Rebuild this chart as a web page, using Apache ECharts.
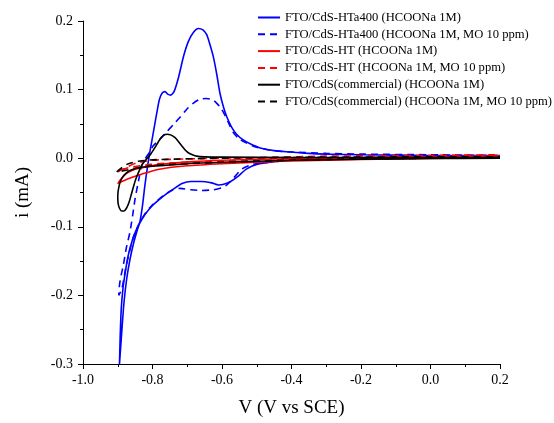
<!DOCTYPE html>
<html>
<head>
<meta charset="utf-8">
<script src="https://cdn.jsdelivr.net/npm/echarts@6/dist/echarts.min.js"></script>
<style>html,body{margin:0;padding:0;background:#fff}#c{width:554px;height:423px}</style>
</head>
<body>
<div id="c"></div>
<script>
const seriesNames = [
  'FTO/CdS-HTa400 (HCOONa 1M)',
  'FTO/CdS-HTa400 (HCOONa 1M, MO 10 ppm)',
  'FTO/CdS-HT (HCOONa 1M)',
  'FTO/CdS-HT (HCOONa 1M, MO 10 ppm)',
  'FTO/CdS(commercial) (HCOONa 1M)',
  'FTO/CdS(commercial) (HCOONa 1M, MO 10 ppm)'
];
const xTicks = [-1.0, 0.2, 0.2];   // min, max, interval
const yTicks = [-0.3, 0.2, 0.1];

// FTO/CdS-HTa400 (HCOONa 1M)
const hta_V = [0.2,0.1,0.0,-0.1,-0.2,-0.3,-0.4,-0.45,-0.5,-0.53,-0.555,-0.575,-0.595,-0.61,-0.63,-0.66,-0.69,-0.715,-0.74,-0.76,-0.78,-0.80,-0.82,-0.835,-0.848,-0.86,-0.87,-0.878,-0.885,-0.89,-0.893,-0.895,
  -0.893,-0.888,-0.882,-0.874,-0.865,-0.855,-0.845,-0.836,-0.829,-0.822,-0.816,-0.809,-0.803,-0.795,-0.788,-0.78,-0.772,-0.764,-0.755,-0.748,-0.738,-0.725,-0.711,-0.697,-0.683,-0.668,-0.655,-0.644,-0.635,-0.625,-0.615,-0.606,-0.596,-0.586,-0.572,-0.558,-0.54,-0.519,-0.49,-0.45,-0.4,-0.35,-0.3,-0.2,-0.1,0.0,0.1,0.2];
const hta_I = [0.002,0.0015,0.001,0.0,-0.001,-0.002,-0.003,-0.005,-0.009,-0.016,-0.027,-0.034,-0.038,-0.039,-0.036,-0.034,-0.034,-0.037,-0.045,-0.052,-0.060,-0.069,-0.081,-0.093,-0.106,-0.123,-0.142,-0.165,-0.19,-0.22,-0.26,-0.30,
  -0.30,-0.25,-0.21,-0.175,-0.148,-0.125,-0.107,-0.092,-0.070,-0.040,-0.018,0.005,0.022,0.045,0.065,0.086,0.095,0.097,0.093,0.092,0.097,0.118,0.148,0.170,0.183,0.189,0.187,0.180,0.166,0.148,0.122,0.095,0.075,0.060,0.045,0.035,0.027,0.021,0.015,0.011,0.009,0.007,0.006,0.005,0.0045,0.004,0.004,0.004];

// FTO/CdS-HTa400 (HCOONa 1M, MO 10 ppm)
const htaMO_V = [0.2,0.0,-0.2,-0.3,-0.4,-0.45,-0.51,-0.543,-0.565,-0.586,-0.6,-0.625,-0.66,-0.69,-0.72,-0.745,-0.77,-0.80,-0.82,-0.84,-0.855,-0.868,-0.878,-0.888,-0.897,
  -0.895,-0.89,-0.884,-0.875,-0.865,-0.857,-0.85,-0.841,-0.831,-0.82,-0.808,-0.798,-0.778,-0.76,-0.74,-0.72,-0.702,-0.683,-0.663,-0.645,-0.627,-0.615,-0.603,-0.591,-0.578,-0.567,-0.55,-0.529,-0.5,-0.45,-0.4,-0.3,-0.2,0.0,0.2];
const htaMO_I = [0.003,0.002,0.0,-0.001,-0.003,-0.005,-0.009,-0.016,-0.028,-0.039,-0.043,-0.046,-0.047,-0.046,-0.044,-0.047,-0.055,-0.068,-0.080,-0.097,-0.115,-0.14,-0.163,-0.19,-0.20,
  -0.185,-0.17,-0.156,-0.13,-0.108,-0.083,-0.059,-0.035,-0.011,0.0,0.009,0.018,0.028,0.038,0.049,0.060,0.071,0.080,0.086,0.087,0.085,0.080,0.073,0.062,0.048,0.037,0.028,0.022,0.016,0.011,0.009,0.007,0.006,0.005,0.004];

// FTO/CdS-HT (HCOONa 1M)
const ht_V = [0.2,0.0,-0.2,-0.4,-0.5,-0.6,-0.7,-0.78,-0.83,-0.87,-0.9,
  -0.89,-0.875,-0.85,-0.826,-0.78,-0.683,-0.6,-0.49,-0.3,-0.1,0.2];
const ht_I = [0.001,-0.0005,-0.002,-0.004,-0.006,-0.008,-0.011,-0.016,-0.023,-0.030,-0.037,
  -0.030,-0.022,-0.016,-0.0135,-0.009,-0.005,-0.003,-0.0015,0.0,0.002,0.003];

// FTO/CdS-HT (HCOONa 1M, MO 10 ppm)
const htMO_V = [0.2,0.0,-0.2,-0.4,-0.6,-0.75,-0.82,-0.87,-0.9,
  -0.87,-0.846,-0.8,-0.7,-0.5,-0.3,0.0,0.2];
const htMO_I = [0.003,0.0015,0.0,-0.002,-0.004,-0.007,-0.010,-0.014,-0.020,
  -0.012,-0.007,-0.003,-0.001,0.001,0.003,0.004,0.005];

// FTO/CdS(commercial) (HCOONa 1M)
const com_V = [0.2,0.0,-0.2,-0.4,-0.6,-0.7,-0.78,-0.836,-0.86,-0.874,-0.888,-0.896,-0.9,-0.899,-0.895,-0.889,-0.882,-0.875,-0.868,-0.861,-0.855,-0.847,-0.838,-0.828,-0.817,-0.805,-0.793,-0.783,-0.775,-0.766,-0.758,-0.748,-0.735,-0.725,-0.716,-0.706,-0.697,-0.685,-0.673,-0.65,-0.6,-0.4,-0.2,0.0,0.2];
const com_I = [0.0,-0.0005,-0.0015,-0.003,-0.006,-0.008,-0.011,-0.0135,-0.017,-0.021,-0.029,-0.040,-0.055,-0.066,-0.073,-0.077,-0.077,-0.073,-0.065,-0.053,-0.042,-0.029,-0.018,-0.008,-0.001,0.006,0.0155,0.024,0.030,0.034,0.035,0.034,0.030,0.024,0.018,0.012,0.008,0.005,0.003,0.002,0.0015,0.001,0.001,0.001,0.001];

// FTO/CdS(commercial) (HCOONa 1M, MO 10 ppm)
const comMO_V = [0.2,0.0,-0.2,-0.4,-0.6,-0.7,-0.8,-0.855,-0.88,-0.903,
  -0.874,-0.836,-0.78,-0.6,-0.4,0.0,0.2];
const comMO_I = [0.001,0.0,-0.001,-0.003,-0.006,-0.008,-0.011,-0.015,-0.018,-0.020,
  -0.009,-0.004,-0.002,0.0,0.001,0.002,0.002];

const allV = [hta_V, htaMO_V, ht_V, htMO_V, com_V, comMO_V];
const allI = [hta_I, htaMO_I, ht_I, htMO_I, com_I, comMO_I];
const colors = ['#0000ff','#0000ff','#ff0000','#ff0000','#000000','#000000'];
const dashed = [false,true,false,true,false,true];

const FONT = 'Liberation Serif';
const fmt = v => (Math.abs(v) < 1e-9 ? 0 : v).toFixed(1);

const chart = echarts.init(document.getElementById('c'));
chart.setOption({
  animation: false,
  backgroundColor: '#fff',
  grid: {left: 83, right: 54, top: 21, bottom: 57, containLabel: false},
  legend: {
    orient: 'vertical', left: 252, top: 6, padding: 5,
    itemWidth: 22, itemHeight: 14, itemGap: 3.8,
    itemStyle: {opacity: 0, borderWidth: 0},
    textStyle: {fontFamily: FONT, fontSize: 12.6, color: '#000'},
    data: seriesNames
  },
  xAxis: {
    type: 'value', min: xTicks[0], max: xTicks[1], interval: xTicks[2],
    name: 'V (V vs SCE)', nameLocation: 'middle', nameGap: 35,
    nameTextStyle: {fontFamily: FONT, fontSize: 19, color: '#000'},
    axisLine: {onZero: false, lineStyle: {color: '#000', width: 1}},
    axisTick: {length: 5, lineStyle: {color: '#000'}},
    minorTick: {show: true, splitNumber: 2, length: 3, lineStyle: {color: '#000'}},
    splitLine: {show: false},
    axisLabel: {fontFamily: FONT, fontSize: 14, color: '#000', margin: 9, formatter: fmt}
  },
  yAxis: {
    type: 'value', min: yTicks[0], max: yTicks[1], interval: yTicks[2],
    name: 'i (mA)', nameLocation: 'middle', nameGap: 50,
    nameTextStyle: {fontFamily: FONT, fontSize: 19, color: '#000'},
    axisLine: {show: true, onZero: false, lineStyle: {color: '#000', width: 1}},
    axisTick: {show: true, length: 5, lineStyle: {color: '#000'}},
    minorTick: {show: true, splitNumber: 2, length: 3, lineStyle: {color: '#000'}},
    splitLine: {show: false},
    axisLabel: {fontFamily: FONT, fontSize: 14, color: '#000', margin: 10, formatter: fmt}
  },
  series: seriesNames.map((n, k) => ({
    name: n, type: 'line', symbol: 'none', showSymbol: false, smooth: 0.25,
    clip: true,
    data: allV[k].map((v, j) => [v, allI[k][j]]),
    lineStyle: {color: colors[k], width: 1.6, type: dashed[k] ? [7, 5] : 'solid'},
    itemStyle: {color: colors[k]}
  }))
});
</script>
</body>
</html>
